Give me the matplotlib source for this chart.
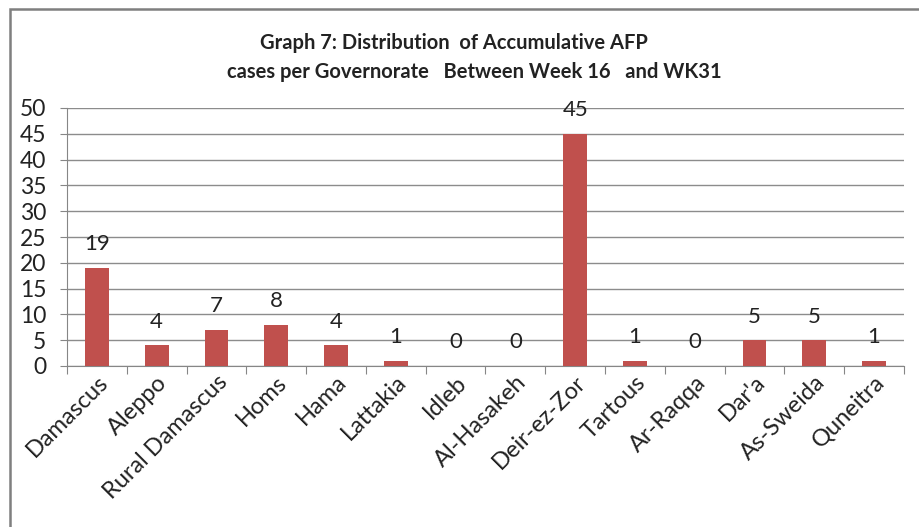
import matplotlib.pyplot as plt
from matplotlib.patches import Rectangle
import numpy as np

governorates = ['Damascus', 'Aleppo', 'Rural Damascus', 'Homs', 'Hama', 'Lattakia', 'Idleb',
                'Al-Hasakeh', 'Deir-ez-Zor', 'Tartous', 'Ar-Raqqa', "Dar'a", 'As-Sweida', 'Quneitra']
cases = [19, 4, 7, 8, 4, 1, 0, 0, 45, 1, 0, 5, 5, 1]
yticks = [0, 5, 10, 15, 20, 25, 30, 35, 40, 45, 50]

plt.rcParams['font.family'] = ['Lato', 'DejaVu Sans']

fig = plt.figure(figsize=(9.2, 5.27), dpi=100)
W, H = 920, 527
ax = fig.add_axes([67 / W, 1 - 366 / H, (904 - 67) / W, (366 - 108) / H])

x = np.arange(len(governorates))
ax.bar(x, cases, width=0.4, color='#C0504D', zorder=3)

#data labels above each bar
for xi, v in zip(x, cases):
    ax.annotate(str(v), (xi, v), xytext=(0, 17), textcoords='offset points',
                ha='center', va='center', fontsize=16, color='#222222')

ax.set_xlim(-0.5, len(governorates) - 0.5)
ax.set_ylim(0, 50)
ax.set_yticks(yticks)
ax.tick_params(axis='y', labelsize=16.5, length=5, color='#868686', pad=10, labelcolor='#222222')
ax.yaxis.grid(True, color='#8c8c8c', linewidth=1.0, zorder=0)

#ticks between categories, labels at the centres
ax.set_xticks(np.arange(len(governorates) + 1) - 0.5)
ax.set_xticklabels([])
ax.set_xticks(x, minor=True)
ax.set_xticklabels(governorates, minor=True, rotation=45, ha='right', rotation_mode='anchor',
                   fontsize=17, color='#222222')
ax.tick_params(axis='x', which='major', length=6, color='#868686')
ax.tick_params(axis='x', which='minor', length=0, pad=4)

for s in ['top', 'right']:
    ax.spines[s].set_visible(False)
for s in ['left', 'bottom']:
    ax.spines[s].set_color('#868686')

fig.text(454 / W, 1 - 43 / H, 'Graph 7: Distribution  of Accumulative AFP',
         ha='center', va='center', fontsize=14.5, fontweight='bold', color='#222222')
fig.text(474 / W, 1 - 72 / H, 'cases per Governorate   Between Week 16   and WK31',
         ha='center', va='center', fontsize=14.5, fontweight='bold', color='#222222')

#outer chart frame, cut off at right and bottom
fig.patches.append(Rectangle((10 / W, -0.1), 1.0, 1 - 9 / H + 0.1, transform=fig.transFigure,
                             fill=False, edgecolor='#7f7f7f', linewidth=1.8))

fig.savefig('out.png', dpi=100)
